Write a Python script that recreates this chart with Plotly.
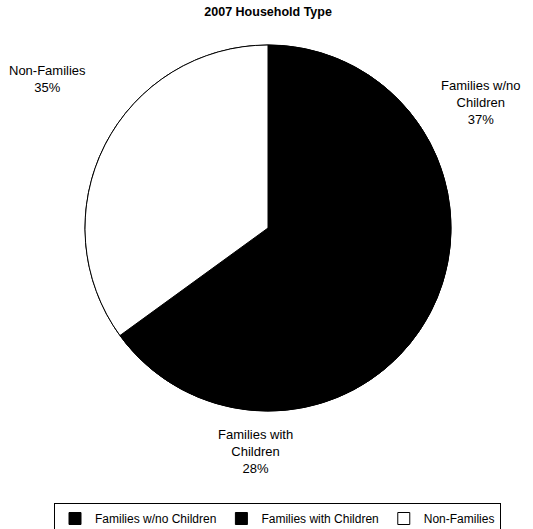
import plotly.graph_objects as go

title = "2007 Household Type"
categories = ["Families w/no Children", "Families with Children", "Non-Families"]
values = [37, 28, 35]
label_lines = ["Families w/no<br>Children", "Families with<br>Children", "Non-Families"]
colors = ["#000000", "#000000", "#ffffff"]

W, H = 533, 529
cx, cy, r = 268, 228, 183
dom = dict(x=[(cx - r) / W, (cx + r) / W], y=[1 - (cy + r) / H, 1 - (cy - r) / H])

# solid backing disc (total of all slices) so that adjacent black slices show no seam
backing = go.Pie(values=[sum(values)], labels=["total"], sort=False, textinfo="none",
                 hoverinfo="skip", showlegend=False,
                 marker=dict(colors=["#000000"], line=dict(color="#000000", width=1)), domain=dom)

pie = go.Pie(
    labels=categories, values=values, sort=False, direction="clockwise",
    rotation=0, textinfo="none", hoverinfo="label+percent",
    marker=dict(colors=colors, line=dict(color="#000000", width=1)),
    domain=dom,
)

fig = go.Figure([backing, pie])

label_pos = [(480, 102), (255, 451), (47, 79)]
ann = []
for name, v, (x, y) in zip(label_lines, values, label_pos):
    ann.append(dict(text=f"{name}<br>{v}%", x=x / W, y=1 - y / H, xref="paper", yref="paper",
                    showarrow=False, xanchor="center", yanchor="middle",
                    font=dict(family="Liberation Sans, Arial", size=13, color="#000")))

fig.update_layout(
    width=W, height=H, margin=dict(l=0, r=0, t=0, b=0, autoexpand=False),
    paper_bgcolor="white", plot_bgcolor="white",
    title=dict(text=f"<b>{title}</b>", x=0.503, xanchor="center", y=1 - 12 / H, yanchor="middle",
               font=dict(family="Liberation Sans, Arial", size=12.5, color="#000")),
    annotations=ann,
    showlegend=True,
    legend=dict(orientation="h", x=(53 + 502) / 2 / W, xanchor="center", y=1 - 503 / H, yanchor="top",
                bordercolor="#000", borderwidth=1, bgcolor="white",
                font=dict(family="Liberation Sans, Arial", size=12, color="#000"),
                itemwidth=30, tracegroupgap=0, traceorder="normal"),
)

fig.write_html("out.html")
